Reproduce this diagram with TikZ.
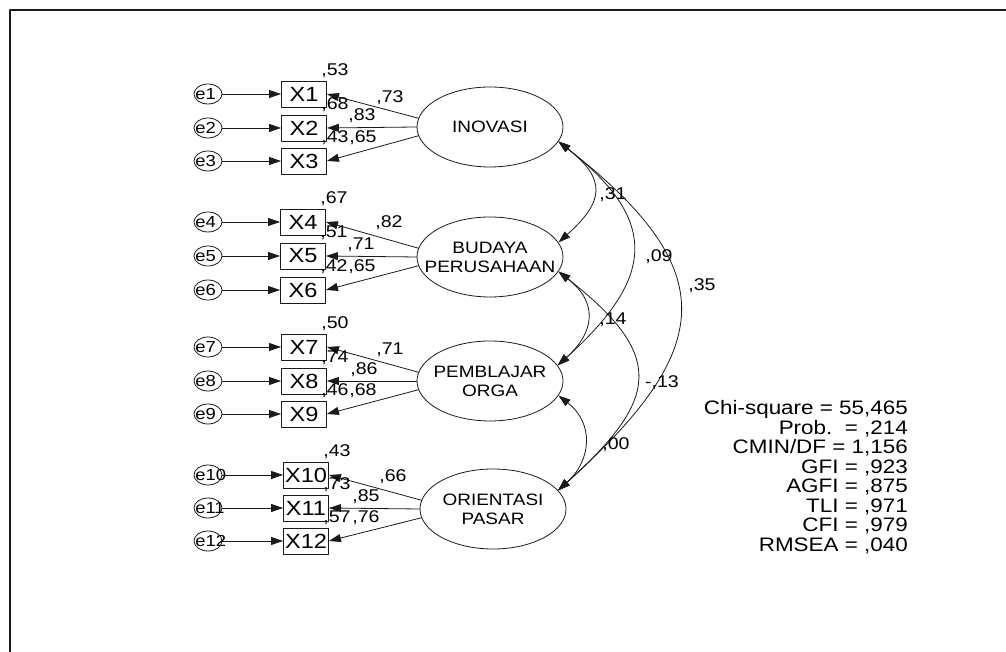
\documentclass[tikz,border=0pt]{standalone}
\usepackage{fontspec}
\usetikzlibrary{arrows.meta,shapes.geometric,positioning}
\newfontfamily\amos{Liberation Sans}[FakeStretch=1.15]
\definecolor{ink}{HTML}{1A1A1A}

\begin{document}
\begin{tikzpicture}[
  x=1pt, y=1pt, line cap=round, line join=round,
  frameline/.style={ink, line width=1.4pt},
  manifest/.style={draw=ink, line width=0.9pt, minimum width=45pt,
                   minimum height=26pt, inner sep=0pt,
                   font=\amos\fontsize{20.5}{20.5}\selectfont},
  errterm/.style={draw=ink, ellipse, line width=0.8pt, minimum width=28pt,
                  minimum height=20pt, inner sep=0pt},
  errname/.style={anchor=west, inner sep=0pt,
                  font=\amos\fontsize{16}{16}\selectfont},
  latent/.style={draw=ink, ellipse, line width=0.8pt, minimum width=146pt,
                 minimum height=80pt, inner sep=0pt},
  latname/.style={align=center, inner sep=0pt,
                  font=\amos\fontsize{16.5}{19}\selectfont},
  est/.style={inner sep=0pt, font=\amos\fontsize{17}{17}\selectfont},
  gofstats/.style={align=right, inner sep=0pt, anchor=north east,
                   font=\amos\fontsize{19.5}{19.5}\selectfont},
  arr/.style={ink, line width=0.8pt, -{Triangle[length=12pt,width=8pt]}},
  cov/.style={ink, line width=0.8pt,
              {Triangle[length=12pt,width=8pt]}-{Triangle[length=12pt,width=8pt]}}]

\useasboundingbox (0,0) rectangle (1006,652);
\draw[frameline] (10,0) |- (1006,642);

% ================================================================ latent variables
\node[latent] (inov) at (490,525) {};
\node[latname] (inovname) at (inov) {INOVASI};
\node[latent] (bud) at (490,395) {};
\node[latname] (budname) at (bud) {BUDAYA\\PERUSAHAAN};
\node[latent] (pem) at (490,271) {};
\node[latname] (pemname) at (pem) {PEMBLAJAR\\ORGA};
\node[latent] (ori) at (493,143) {};
\node[latname] (oriname) at (ori) {ORIENTASI\\PASAR};

% ================================================================ indicators and errors
\foreach \i/\x/\y in {1/304/558, 2/304/524, 3/304/491, 4/303/430, 5/303/396,
                      6/303/362, 7/304/305, 8/304/271, 9/304/238, 10/306/177,
                      11/306/144, 12/306/111} {
  \node[manifest] (X\i) at (\x,\y) {X\i};
  \node[errterm] (e\i) at (208,\y) {};
  \node[errname] (en\i) at ([xshift=1.5pt]e\i.west) {e\i};
  \draw[arr] (e\i) -- (X\i);
}

% ================================================================ loadings
\foreach \lat/\a/\b/\c in {inov/1/2/3, bud/4/5/6, pem/7/8/9, ori/10/11/12} {
  \draw[arr] (\lat.173) -- (X\a.east);
  \draw[arr] (\lat.west) -- (X\b.east);
  \draw[arr] (\lat.187) -- (X\c.east);
}

% squared multiple correlations
\foreach \i/\r in {1/{,53}, 2/{,68}, 3/{,43}, 4/{,67}, 5/{,51}, 6/{,42},
                   7/{,50}, 8/{,74}, 9/{,46}, 10/{,43}, 11/{,73}, 12/{,57}}
  \node[est] (r\i) at ([shift={(8,23)}]X\i.east) {\r};

% standardized loadings
\foreach \i/\l/\dx/\dy in {1/{,73}/63/-4, 2/{,83}/35/12, 3/{,65}/36/23,
                           4/{,82}/63/-1, 5/{,71}/35/11, 6/{,65}/36/23,
                           7/{,71}/63/-3, 8/{,86}/37/11, 9/{,68}/36/23,
                           10/{,66}/64/-2, 11/{,85}/37/11, 12/{,76}/37/23}
  \node[est] (l\i) at ([shift={(\dx,\dy)}]X\i.east) {\l};

% ================================================================ covariances
\draw[cov] (inov.-12) to[out=-38, in=42, looseness=1.56] (bud.12);
\draw[cov] (inov.-12) to[out=-38, in=42, looseness=1.48] (pem.13);
\draw[cov] (inov.-12) to[out=-38, in=42, looseness=1.55] (ori.16);
\draw[cov] (bud.-12) to[out=-38, in=42, looseness=1.37] (pem.13);
\draw[cov] (bud.-12) to[out=-38, in=42, looseness=1.60] (ori.16);
\draw[cov] (pem.-12) to[out=-38, in=42, looseness=1.22] (ori.16);

\node[est] (c1) at (613,457) {,31};
\node[est] (c2) at (659,395) {,09};
\node[est] (c3) at (702,366) {,35};
\node[est] (c4) at (613,332) {,14};
\node[est] (c5) at (662,269) {-,13};
\node[est] (c6) at (616,207) {,00};

% ================================================================ fit
\node[gofstats] (gof) at (908,251.5)
  {Chi-square = 55,465\\Prob.\ \ = ,214\\CMIN/DF = 1,156\\GFI = ,923\\
   AGFI = ,875\\TLI = ,971\\CFI = ,979\\RMSEA = ,040};

\end{tikzpicture}
\end{document}
